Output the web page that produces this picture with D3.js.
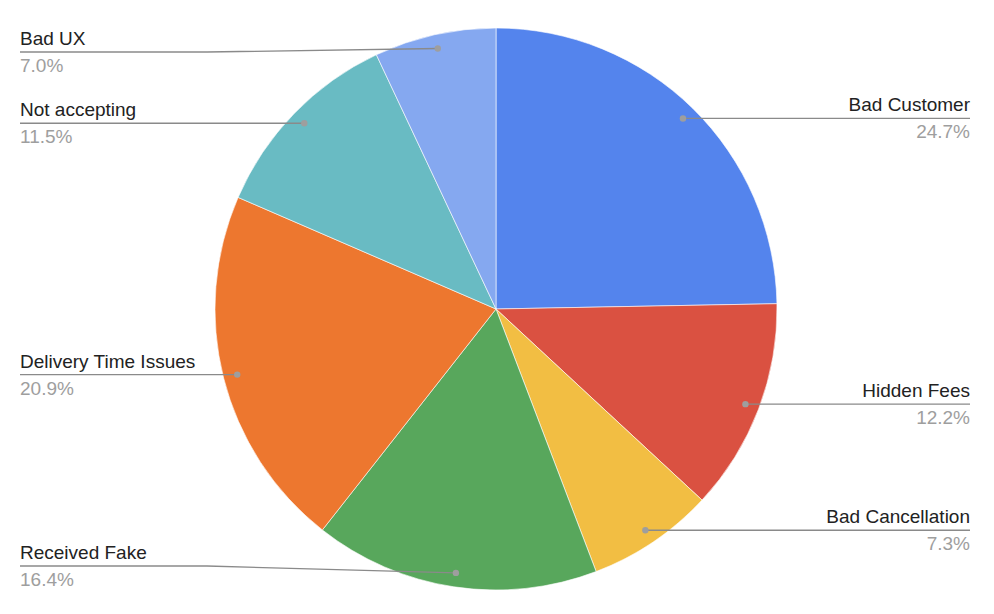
<!DOCTYPE html>
<html>
<head>
<meta charset="utf-8">
<script src="https://cdn.jsdelivr.net/npm/d3@7"></script>
<style>
  body { margin: 0; background: #fff; }
  text { font-family: "Liberation Sans", Arial, sans-serif; }
</style>
</head>
<body>
<script>
"use strict";

const categories = ["Bad Customer", "Hidden Fees", "Bad Cancellation", "Received Fake",
  "Delivery Time Issues", "Not accepting", "Bad UX"];
const values = [24.7, 12.2, 7.3, 16.4, 20.9, 11.5, 7.0];
const colors = ["#5484ED", "#DA5141", "#F2BE43", "#58A75C", "#ED772F", "#69BBC3", "#85A8F0"];

const m = { width: 994, height: 614 };
const cx = 496, cy = 309, R = 281;

const svg = d3.select("body").append("svg")
  .attr("width", m.width)
  .attr("height", m.height);

const data = categories.map((c, i) => ({ name: c, value: values[i], color: colors[i] }));

const pie = d3.pie().sort(null).value(d => d.value);
const arcs = pie(data);
const arc = d3.arc().innerRadius(0).outerRadius(R);

const g = svg.append("g").attr("transform", `translate(${cx},${cy})`);

g.selectAll("path")
  .data(arcs)
  .enter()
  .append("path")
  .attr("d", arc)
  .attr("fill", d => d.data.color)
  .attr("stroke", "#fff")
  .attr("stroke-width", 0.6);

// leader lines + labels
const dotR = R * 0.95;
const minY = 52, maxY = 566;

const labels = svg.append("g");

arcs.forEach(d => {
  const a = (d.startAngle + d.endAngle) / 2;
  const dx = cx + dotR * Math.sin(a);
  const dy = cy - dotR * Math.cos(a);
  const right = dx > cx;
  const ly = Math.max(minY, Math.min(maxY, dy));
  const edge = right ? 970 : 20;
  const elbow = right ? 787 : 207;

  labels.append("path")
    .attr("d", d3.line()([[edge, ly], [elbow, ly], [dx, dy]]))
    .attr("fill", "none")
    .attr("stroke", "#8a8a8a")
    .attr("stroke-width", 1.3);

  labels.append("circle")
    .attr("cx", dx)
    .attr("cy", dy)
    .attr("r", 3.2)
    .attr("fill", "#9e9e9e");

  labels.append("text")
    .attr("x", edge)
    .attr("y", ly - 7)
    .attr("text-anchor", right ? "end" : "start")
    .attr("font-size", 19)
    .attr("fill", "#222")
    .text(d.data.name);

  labels.append("text")
    .attr("x", edge)
    .attr("y", ly + 20)
    .attr("text-anchor", right ? "end" : "start")
    .attr("font-size", 19)
    .attr("fill", "#9e9e9e")
    .text(d.data.value.toFixed(1) + "%");
});
</script>
</body>
</html>
